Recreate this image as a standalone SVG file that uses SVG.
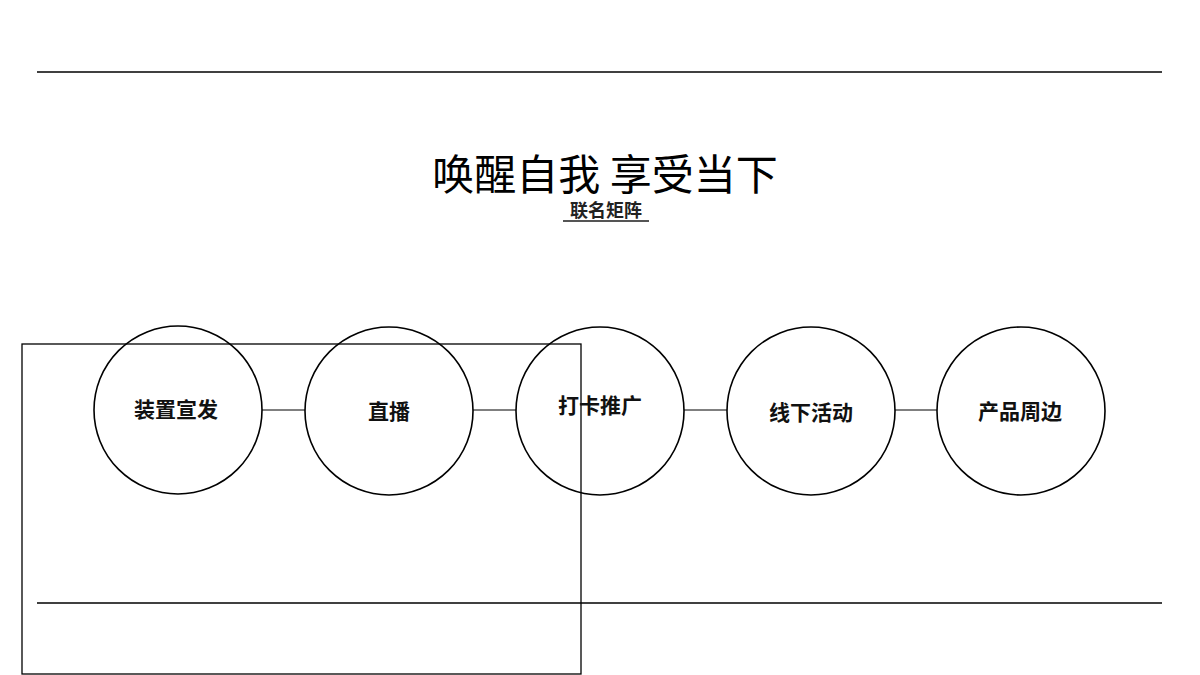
<svg xmlns="http://www.w3.org/2000/svg" width="1200" height="675" viewBox="0 0 1200 675">
<style>
.rule{stroke:#000;stroke-width:1.3}
.c{fill:none;stroke:#000;stroke-width:1.6}
.lbl{font-family:"Noto Sans CJK SC",sans-serif;font-weight:bold;font-size:21px;text-anchor:middle;fill:#111}
.con{stroke:#000;stroke-width:1}
</style>
<rect width="1200" height="675" fill="#fff"/>
<line class="rule" x1="37" y1="72" x2="1162" y2="72"/>
<line class="rule" x1="37" y1="603" x2="1162" y2="603"/>
<text x="605" y="190" font-family="Noto Sans CJK SC,sans-serif" font-size="42" text-anchor="middle" fill="#000">唤醒自我 享受当下</text>
<text x="606" y="217" font-family="Noto Sans CJK SC,sans-serif" font-weight="bold" font-size="18" text-anchor="middle" fill="#222">联名矩阵</text>
<line x1="563" y1="221" x2="649" y2="221" stroke="#555" stroke-width="2"/>
<rect x="22" y="344" width="559" height="330" fill="none" stroke="#000" stroke-width="1.3"/>
<g id="connectors">
<line class="con" x1="262" y1="410" x2="305" y2="410"/>
<line class="con" x1="473" y1="410" x2="516" y2="410"/>
<line class="con" x1="684" y1="410" x2="727" y2="410"/>
<line class="con" x1="895" y1="410" x2="937" y2="410"/>
</g>
<g id="n1"><circle class="c" cx="178" cy="410" r="84"/><text class="lbl" x="176" y="417">装置宣发</text></g>
<g id="n2"><circle class="c" cx="389" cy="411" r="84"/><text class="lbl" x="389" y="419">直播</text></g>
<g id="n3"><circle class="c" cx="600" cy="411" r="84"/><text class="lbl" x="600" y="413">打卡推广</text></g>
<g id="n4"><circle class="c" cx="811" cy="411" r="84"/><text class="lbl" x="811" y="420">线下活动</text></g>
<g id="n5"><circle class="c" cx="1021" cy="411" r="84"/><text class="lbl" x="1020" y="419">产品周边</text></g>
</svg>
